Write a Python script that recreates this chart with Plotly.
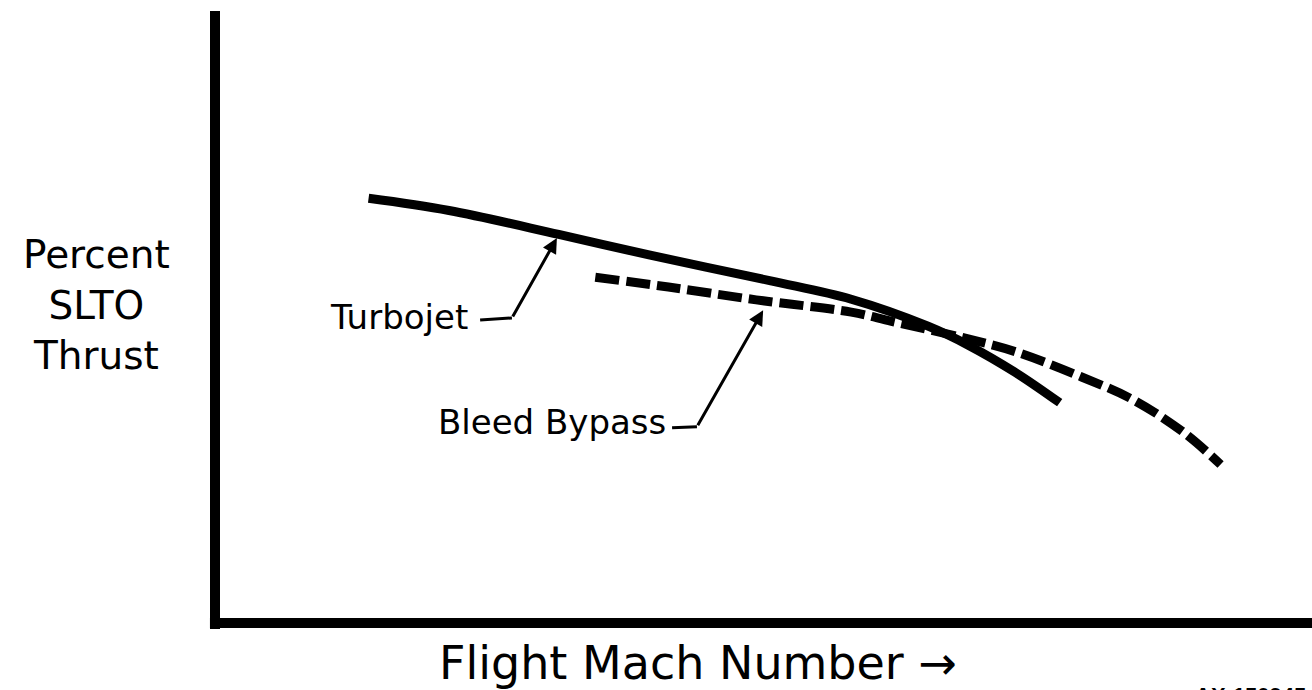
import plotly.graph_objects as go

# ---- data (arbitrary Mach / percent units) ----
turbojet_mach = [0.42, 0.64, 0.94, 1.19, 1.52, 1.74, 1.95, 2.06, 2.19, 2.31]
turbojet_thrust = [69.4, 67.4, 63.5, 60.1, 55.9, 52.9, 48.5, 45.4, 40.9, 36.0]

bleed_mach = [1.04, 1.24, 1.48, 1.74, 1.85, 2.04, 2.19, 2.37, 2.51, 2.65, 2.75]
bleed_thrust = [56.5, 54.9, 52.8, 50.8, 49.3, 46.7, 44.3, 40.2, 36.5, 31.1, 25.9]

series_names = ["Turbojet", "Bleed Bypass"]
y_title_lines = ["Percent", "SLTO", "Thrust"]
x_title = "Flight Mach Number \u2192"
figure_id = "AX-150945"

X_RANGE = [0, 3.0]
Y_RANGE = [0, 100]

FONT = "DejaVu Sans"

fig = go.Figure()
fig.add_trace(go.Scatter(
    x=turbojet_mach, y=turbojet_thrust, mode="lines", name=series_names[0],
    line=dict(color="black", width=9, shape="spline", smoothing=1.0),
    hoverinfo="skip"))
fig.add_trace(go.Scatter(
    x=bleed_mach, y=bleed_thrust, mode="lines", name=series_names[1],
    line=dict(color="black", width=9, shape="spline", smoothing=1.0, dash="24px,7px"),
    hoverinfo="skip"))

# leader lines (horizontal ticks next to labels)
fig.add_trace(go.Scatter(x=[0.725, 0.812], y=[49.5, 49.84], mode="lines",
                         line=dict(color="black", width=3), hoverinfo="skip"))
fig.add_trace(go.Scatter(x=[1.25, 1.318], y=[31.9, 32.08], mode="lines",
                         line=dict(color="black", width=3), hoverinfo="skip"))

annotations = [
    # arrows
    dict(x=0.935, y=62.9, ax=0.812, ay=49.84, xref="x", yref="y", axref="x", ayref="y",
         text="", showarrow=True, arrowhead=2, arrowsize=1.0, arrowwidth=3,
         arrowcolor="black", standoff=0),
    dict(x=1.499, y=51.1, ax=1.318, ay=32.08, xref="x", yref="y", axref="x", ayref="y",
         text="", showarrow=True, arrowhead=2, arrowsize=1.0, arrowwidth=3,
         arrowcolor="black", standoff=0),
    # labels
    dict(x=0.697, y=50.0, xref="x", yref="y", text=series_names[0], showarrow=False,
         xanchor="right", yanchor="middle", font=dict(family=FONT, size=34, color="black")),
    dict(x=1.239, y=32.9, xref="x", yref="y", text=series_names[1], showarrow=False,
         xanchor="right", yanchor="middle", font=dict(family=FONT, size=34, color="black")),
    # y title (three lines)
    dict(x=-0.1076, y=0.519, xref="paper", yref="paper", text="<br>".join(y_title_lines),
         showarrow=False, xanchor="center", yanchor="middle", align="center",
         font=dict(family=FONT, size=39, color="black")),
    # x title
    dict(x=0.44, y=-0.066, xref="paper", yref="paper", text=x_title, showarrow=False,
         xanchor="center", yanchor="middle", font=dict(family=FONT, size=46, color="black")),
    # figure id (cut off at bottom, as in the original)
    dict(x=0.8915, y=-0.095, xref="paper", yref="paper", text="<b>" + figure_id + "</b>",
         showarrow=False, xanchor="left", yanchor="top",
         font=dict(family="Liberation Sans", size=22, color="black")),
]

shapes = [
    dict(type="line", xref="paper", yref="paper", x0=0, x1=0, y0=-0.0098, y1=1,
         line=dict(color="black", width=10)),
    dict(type="line", xref="paper", yref="paper", x0=-0.0046, x1=1.0, y0=0, y1=0,
         line=dict(color="black", width=10)),
]

fig.update_layout(
    width=1312, height=690,
    margin=dict(l=215, r=0, t=11, b=67),
    paper_bgcolor="white", plot_bgcolor="white",
    showlegend=False,
    xaxis=dict(range=X_RANGE, visible=False, fixedrange=True),
    yaxis=dict(range=Y_RANGE, visible=False, fixedrange=True),
    annotations=annotations,
    shapes=shapes,
)

fig.write_html("out.html", config={"displayModeBar": False},
               post_script="document.body.style.margin='0';document.body.style.overflow='hidden';")
